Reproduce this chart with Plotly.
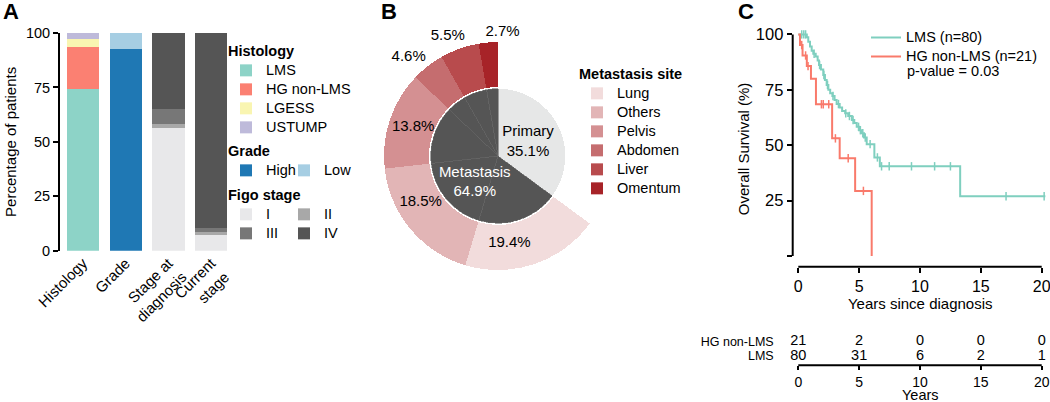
import plotly.graph_objects as go
import numpy as np

W, H = 1050, 402
def px(x):
    return x / W
def py(y):
    return 1 - y / H

FONT = "Liberation Sans, Arial, sans-serif"

# ---------------- Panel A data ----------------
bar_cats = ["Histology", "Grade", "Stage at<br>diagnosis", "Current<br>stage"]
hist_names = ["LMS", "HG non-LMS", "LGESS", "USTUMP"]
hist_vals = [74.1, 19.4, 3.7, 2.8]
hist_colors = ["#8dd3c7", "#fb8072", "#f9f5b1", "#bebada"]
grade_names = ["High", "Low"]
grade_vals = [92.6, 7.4]
grade_colors = ["#1f78b4", "#a6cee3"]
grade_legends = ["legend2", "legend7"]
figo_names = ["I", "II", "III", "IV"]
figo_diag = [56.4, 1.8, 6.7, 35.1]
figo_current = [7.0, 1.5, 1.7, 89.8]
figo_colors = ["#e8e8ea", "#a8a8a8", "#777777", "#555555"]
figo_legends = ["legend3", "legend4", "legend3", "legend4"]

# ---------------- Panel B data ----------------
inner_names = ["Primary", "Metastasis"]
inner_vals = [35.1, 64.9]
inner_colors = ["#e6e7e7", "#555555"]
site_names = ["Lung", "Others", "Pelvis", "Abdomen", "Liver", "Omentum"]
site_vals = [19.4, 18.5, 13.8, 4.6, 5.5, 2.7]
site_colors = ["#f2dcdc", "#e2b5b6", "#d49092", "#c56d6f", "#b84b4d", "#a72328"]

# ---------------- Panel C data ----------------
lms_t = [0, 0.7, 0.82, 0.96, 1.1, 1.23, 1.43, 1.59, 1.7, 1.86, 2.05, 2.19, 2.33, 2.47,
         2.62, 2.8, 2.98, 3.15, 3.4, 3.6, 3.85, 4.1, 4.4, 4.6, 4.8, 5.0, 5.2, 5.4, 5.62,
         6.25, 6.7, 13.3, 20.3]
lms_s = [100, 98.7, 96.7, 94.5, 92.6, 91.3, 90.0, 88.2, 86.2, 84.2, 81.7, 79.4, 77.2, 75.0,
         73.5, 72.2, 70.4, 68.6, 67.0, 65.5, 64.4, 63.2, 61.4, 60.0, 58.3, 56.8, 55.4, 53.5, 50.5,
         44.5, 40.5, 27.0, 27.0]
lms_cens = [0.28, 0.45, 0.6, 1.3, 1.75, 2.1, 2.4, 2.85, 3.3, 3.9, 4.2, 4.5, 4.95, 5.1, 5.3,
            5.5, 5.9, 6.5, 6.84, 7.47, 9.3, 11.2, 12.5, 17.07, 20.2]
hg_t = [0, 0.14, 0.35, 0.7, 1.04, 1.45, 2.78, 3.4, 4.67, 6.03]
hg_s = [100, 95.2, 90.5, 85.7, 80.0, 68.5, 53.1, 44.1, 29.4, 0]
hg_cens = [0.28, 0.6, 0.8, 1.9, 2.05, 2.5, 3.05, 4.1, 5.35]
risk_years = [0, 5, 10, 15, 20]
risk_hg = [21, 2, 0, 0, 0]
risk_lms = [80, 31, 6, 2, 1]
km_names = ["LMS (n=80)", "HG non-LMS (n=21)"]
km_colors = ["#7fcfbf", "#f97a6b"]
p_text = "p-value = 0.03"

def surv_at(ts, ss, t):
    s = ss[0]
    for ti, si in zip(ts, ss):
        if ti <= t:
            s = si
    return s

def leg_name(n, size=14.5):
    return f"<span style='font-size:{size}px'>{n}</span>"

fig = go.Figure()

# ---------------- Panel A ----------------
for n, v, c in zip(hist_names, hist_vals, hist_colors):
    fig.add_trace(go.Bar(x=[bar_cats[0]], y=[v], name=leg_name(n), marker=dict(color=c, line=dict(width=0)),
                         legend="legend", xaxis="x", yaxis="y", hoverinfo="skip"))
for n, v, c, lg in zip(grade_names, grade_vals, grade_colors, grade_legends):
    fig.add_trace(go.Bar(x=[bar_cats[1]], y=[v], name=leg_name(n), marker=dict(color=c, line=dict(width=0)),
                         legend=lg, xaxis="x", yaxis="y", hoverinfo="skip"))
for n, d, cu, c, lg in zip(figo_names, figo_diag, figo_current, figo_colors, figo_legends):
    fig.add_trace(go.Bar(x=[bar_cats[2], bar_cats[3]], y=[d, cu], name=leg_name(n),
                         marker=dict(color=c, line=dict(width=0)),
                         legend=lg, xaxis="x", yaxis="y", hoverinfo="skip"))

# ---------------- Panel B ----------------
R_IN = 0.59
R_RING0 = 0.605
R_RING1 = 1.0
deg_per = 360.0 / sum(inner_vals)
prim_w = inner_vals[0] * deg_per
scale = inner_vals[1] / sum(site_vals)
site_w = [v * scale * deg_per for v in site_vals]
site_start = list(prim_w + np.concatenate([[0], np.cumsum(site_w)[:-1]]))
site_mid = [s + w / 2 for s, w in zip(site_start, site_w)]

fig.add_trace(go.Barpolar(r=[R_IN], base=[0], theta=[prim_w / 2], width=[prim_w],
                          marker=dict(color=inner_colors[0], line=dict(width=0)),
                          showlegend=False, hoverinfo="skip"))
fig.add_trace(go.Barpolar(r=[R_IN] * len(site_vals), base=[0] * len(site_vals), theta=site_mid, width=site_w,
                          marker=dict(color=inner_colors[1], line=dict(width=0.6, color="#686868")),
                          showlegend=False, hoverinfo="skip"))
for n, m, w, c in zip(site_names, site_mid, site_w, site_colors):
    fig.add_trace(go.Barpolar(r=[R_RING1 - R_RING0], base=[R_RING0], theta=[m], width=[w], name=leg_name(n),
                              marker=dict(color=c, line=dict(width=0)),
                              legend="legend5", hoverinfo="skip"))
# ring labels (label placement offsets are styling)
lab_r = [0.77, 0.79, 0.785, 1.17, 1.14, 1.09]
lab_shift = [11, 9, 0, -4, -3, 7]
fig.add_trace(go.Scatterpolar(r=lab_r, theta=[m + s for m, s in zip(site_mid, lab_shift)], mode="text",
                              text=[f"{v}%" for v in site_vals],
                              textfont=dict(size=15, color="black", family=FONT),
                              showlegend=False, hoverinfo="skip", cliponaxis=False))
# inner labels
inner_mid = [prim_w / 2, prim_w + inner_vals[1] * deg_per / 2]
inner_shift = [2, -22]
fig.add_trace(go.Scatterpolar(r=[0.29, 0.31], theta=[m + s for m, s in zip(inner_mid, inner_shift)], mode="text",
                              text=[f"{n}<br>{v}%" for n, v in zip(inner_names, inner_vals)],
                              textfont=dict(size=15, color=["black", "white"], family=FONT),
                              showlegend=False, hoverinfo="skip", cliponaxis=False))

# ---------------- Panel C ----------------
for t, s, n, c in zip([lms_t, hg_t], [lms_s, hg_s], km_names, km_colors):
    fig.add_trace(go.Scatter(x=t, y=s, mode="lines", line=dict(color=c, width=2, shape="hv"),
                             name=leg_name(n), legend="legend6", xaxis="x2", yaxis="y2", hoverinfo="skip"))
for cens, t, s, c in zip([lms_cens, hg_cens], [lms_t, hg_t], [lms_s, hg_s], km_colors):
    fig.add_trace(go.Scatter(x=cens, y=[surv_at(t, s, ci) for ci in cens], mode="markers",
                             marker=dict(symbol="line-ns", size=6, line=dict(color=c, width=1.5)),
                             showlegend=False, xaxis="x2", yaxis="y2", hoverinfo="skip", cliponaxis=False))
# risk table
fig.add_trace(go.Scatter(x=risk_years + risk_years, y=[1] * len(risk_years) + [0] * len(risk_years),
                         mode="text", text=[str(v) for v in risk_hg + risk_lms],
                         textfont=dict(size=14.5, color="black", family=FONT), cliponaxis=False,
                         showlegend=False, xaxis="x3", yaxis="y3", hoverinfo="skip"))

ax_common = dict(showgrid=False, zeroline=False, color="black", automargin=False)
KM_RANGE = [-0.46, 20.5]
leg_common = dict(xanchor="left", yanchor="top", bgcolor="rgba(0,0,0,0)", borderwidth=0,
                  traceorder="normal", tracegroupgap=0, itemclick=False, itemdoubleclick=False,
                  font=dict(size=11))
title_font = dict(size=14.5)

fig.update_layout(
    template="none",
    width=W, height=H,
    margin=dict(l=0, r=0, t=0, b=0, autoexpand=False),
    paper_bgcolor="white", plot_bgcolor="rgba(0,0,0,0)",
    font=dict(family=FONT, color="black", size=14),
    barmode="stack", bargap=0.24,
    xaxis=dict(domain=[px(60), px(232.5)], range=[-0.539, 3.5], type="category",
               tickangle=-45, ticks="", showline=False, tickfont=dict(size=15), anchor="y", **ax_common),
    yaxis=dict(domain=[py(250.7), py(33)], range=[0, 100], showline=True, linewidth=2, linecolor="black",
               ticks="outside", ticklen=5, tickwidth=2, tickvals=[0, 25, 50, 75, 100],
               tickfont=dict(size=14.5), anchor="x",
               title=dict(text="Percentage of patients", font=dict(size=15), standoff=6), **ax_common),
    xaxis2=dict(domain=[px(792.7), px(1047.8)], range=KM_RANGE, anchor="y2",
                tickvals=risk_years, ticks="outside", ticklen=5, tickwidth=2, showline=False,
                ticklabeloverflow="allow",
                tickfont=dict(size=16), title=dict(text="Years since diagnosis", font=dict(size=15), standoff=4),
                **ax_common),
    yaxis2=dict(domain=[py(266.7), py(31.1)], range=[-4.8, 101.5], anchor="x2",
                tickvals=[0, 25, 50, 75, 100], ticktext=["", "25", "50", "75", "100"],
                ticks="outside", ticklen=5, tickwidth=2, showline=False, tickfont=dict(size=16.5),
                title=dict(text="Overall Survival (%)", font=dict(size=15), standoff=2), **ax_common),
    xaxis3=dict(domain=[px(792.7), px(1047.8)], range=KM_RANGE, anchor="y3",
                tickvals=risk_years, ticks="outside", ticklen=4, tickwidth=2, showline=False,
                ticklabeloverflow="allow",
                tickfont=dict(size=14), **ax_common),
    yaxis3=dict(domain=[py(365.3), py(330.3)], range=[-0.65, 1.8], anchor="x3",
                tickvals=[0, 1], ticktext=["LMS", "HG non-LMS"], ticks="", showline=False,
                tickfont=dict(size=12.5), ticklabelstandoff=18, **ax_common),
    polar=dict(domain=dict(x=[px(498 - 142.5), px(498 + 142.5)], y=[py(156 + 142.5), py(156 - 142.5)]),
               radialaxis=dict(visible=False, range=[0, 1.25]),
               angularaxis=dict(visible=False, rotation=90, direction="clockwise"),
               bgcolor="rgba(0,0,0,0)", hole=0),
    legend=dict(x=px(226), y=py(37), title=dict(text="<b>Histology</b>", font=title_font), **leg_common),
    legend2=dict(x=px(226), y=py(137), title=dict(text="<b>Grade</b>", font=title_font), **leg_common),
    legend7=dict(x=px(284), y=py(137), title=dict(text="&nbsp;", font=title_font), **leg_common),
    legend3=dict(x=px(226), y=py(181), title=dict(text="<b>Figo stage</b>", font=title_font), **leg_common),
    legend4=dict(x=px(284), y=py(181), title=dict(text="&nbsp;", font=title_font), **leg_common),
    legend5=dict(x=px(577), y=py(60), title=dict(text="<b>Metastasis site</b>", font=title_font), **leg_common),
    legend6=dict(x=px(866), y=py(23), **leg_common),
    showlegend=True,
)

# axis lines spanning only the tick range (panel C and risk table)
line_style = dict(color="black", width=2)
fig.add_shape(type="line", xref="x2 domain", yref="y2", x0=0, x1=0, y0=0, y1=100, line=line_style)
fig.add_shape(type="line", xref="x2", yref="y2 domain", x0=risk_years[0], x1=risk_years[-1], y0=0, y1=0, line=line_style)
fig.add_shape(type="line", xref="x3", yref="y3 domain", x0=risk_years[0], x1=risk_years[-1], y0=0, y1=0, line=line_style)

# panel letters, p-value, risk-table axis title
for letter, xx in [("A", 11), ("B", 389), ("C", 746)]:
    fig.add_annotation(text=f"<b>{letter}</b>", x=px(xx), y=py(12), xref="paper", yref="paper",
                       showarrow=False, font=dict(size=22, color="black"), xanchor="center", yanchor="middle")
fig.add_annotation(text=p_text, x=px(905), y=py(71), xref="paper", yref="paper", showarrow=False,
                   font=dict(size=14.5), xanchor="left", yanchor="middle")
fig.add_annotation(text="Years", x=0.5, xref="x3 domain", y=0, yref="paper", showarrow=False,
                   font=dict(size=14.5), xanchor="center", yanchor="bottom", yshift=-3)

fig.write_html("out.html", config={"displayModeBar": False},
               post_script="document.body.style.margin='0';document.body.style.overflow='hidden';")
